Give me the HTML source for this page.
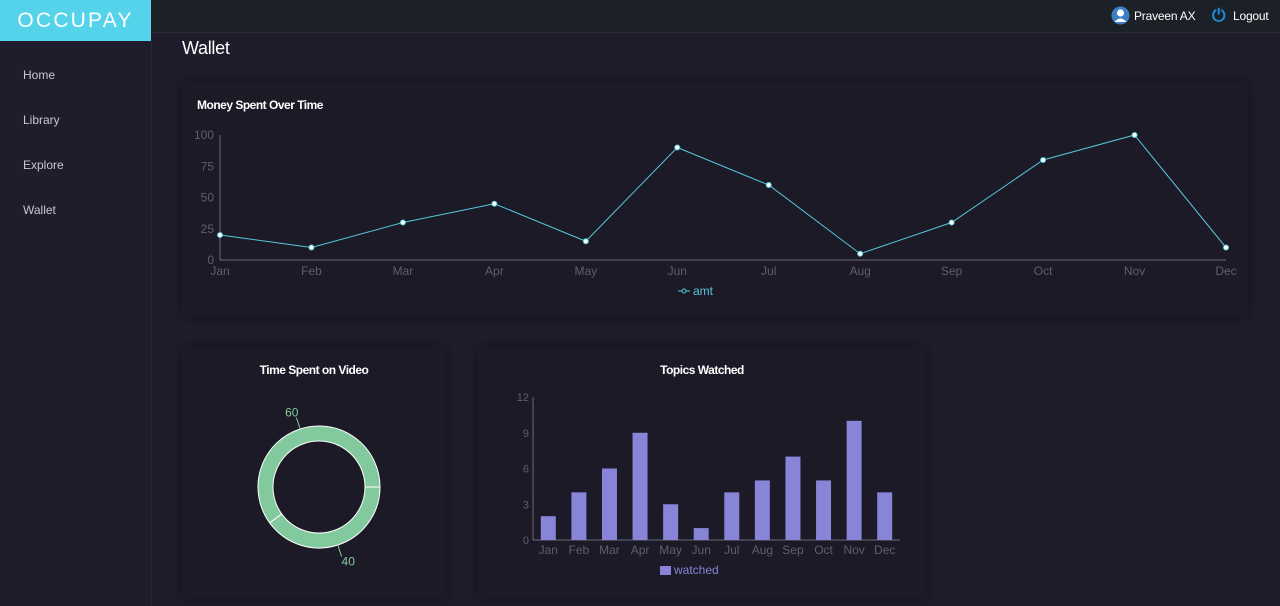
<!DOCTYPE html>
<html><head><meta charset="utf-8">
<style>
body{margin:0;width:1280px;height:606px;overflow:hidden;background:#1f1c2b;font-family:"Liberation Sans",sans-serif;position:relative}
.hdr{position:absolute;left:0;top:0;width:1280px;height:32px;background:#1b2126;border-bottom:1px solid #2a2d38}
.logo{position:absolute;left:0;top:0;width:151px;height:41px;background:#55d3ea;color:#fff;font-size:21px;letter-spacing:2.2px;line-height:41px;text-align:center;font-weight:normal}
.side{position:absolute;left:0;top:41px;width:151px;height:565px;background:#1f1c2b;border-right:1px solid #2a2836}
.nav{position:absolute;left:23px;color:#c8c8cf;font-size:12px}
.card{position:absolute;background:#1c1a27;box-shadow:0 0 12px rgba(0,0,0,.35)}
.t{position:absolute;color:#fff;font-size:12px;font-weight:bold;letter-spacing:-.5px}
svg text{font-family:"Liberation Sans",sans-serif}
</style></head><body>
<div class="hdr">
 <svg style="position:absolute;left:1111px;top:6px" width="19" height="19"><circle cx="9.5" cy="9.5" r="9" fill="#3d7fc4"/><circle cx="9.5" cy="7" r="3.6" fill="#fff"/><path d="M3.5,16 Q9.5,9 15.5,16 Z" fill="#fff"/></svg>
 <div style="position:absolute;left:1134px;top:9px;color:#fff;font-size:12px;letter-spacing:-.2px">Praveen AX</div>
 <div style="position:absolute;left:1212px;top:6px;color:#1e8fe0;font-size:17px;font-weight:bold">⏻</div>
 <div style="position:absolute;left:1233px;top:9px;color:#fff;font-size:12px;letter-spacing:-.2px">Logout</div>
</div>
<div class="logo">OCCUPAY</div>
<div class="side">
 <div class="nav" style="top:27px">Home</div>
 <div class="nav" style="top:72px">Library</div>
 <div class="nav" style="top:117px">Explore</div>
 <div class="nav" style="top:162px">Wallet</div>
</div>
<div style="position:absolute;left:182px;top:38px;color:#fff;font-size:18px;letter-spacing:-.3px">Wallet</div>

<div class="card" style="left:182px;top:83px;width:1066px;height:233px"></div>
<div class="t" style="left:197px;top:98px">Money Spent Over Time</div>
<div class="card" style="left:182px;top:348px;width:264px;height:250px"></div>
<div class="t" style="left:182px;width:264px;text-align:center;top:363px">Time Spent on Video</div>
<div class="card" style="left:478px;top:348px;width:448px;height:250px"></div>
<div class="t" style="left:478px;width:448px;text-align:center;top:363px">Topics Watched</div>

<svg id="svg" width="1280" height="606" style="position:absolute;left:0;top:0"></svg>
<script>
const lineMonths=["Jan","Feb","Mar","Apr","May","Jun","Jul","Aug","Sep","Oct","Nov","Dec"];
const amtValues=[20,10,30,45,15,90,60,5,30,80,100,10];
const amtTicks=[0,25,50,75,100];
const barMonths=["Jan","Feb","Mar","Apr","May","Jun","Jul","Aug","Sep","Oct","Nov","Dec"];
const watchedValues=[2,4,6,9,3,1,4,5,7,5,10,4];
const watchedTicks=[0,3,6,9,12];
const pieLabels=["60","40"];
const pieValues=[60,40];

const svg=document.getElementById('svg');
const NS='http://www.w3.org/2000/svg';
function mk(tag,attrs,txt){const e=document.createElementNS(NS,tag);for(const k in attrs)e.setAttribute(k,attrs[k]);if(txt!=null)e.textContent=txt;svg.appendChild(e);return e;}
const axisC='#6b6a78',tickC='#5f5e6c';

// line chart
const lx0=220,lx1=1226,ly0=260,ly1=135;
const lx=i=>lx0+(lx1-lx0)*i/(lineMonths.length-1);
const ly=v=>ly0-(ly0-ly1)*v/100;
let e=mk('line',{x1:lx0,y1:ly1,x2:lx0,y2:ly0,stroke:axisC});

e=mk('line',{x1:lx0,y1:ly0,x2:lx1,y2:ly0,stroke:axisC});

amtTicks.forEach(v=>{e=mk('text',{x:lx0-6,y:ly(v)+4,'text-anchor':'end',fill:tickC,'font-size':12},v);
});
lineMonths.forEach((m,i)=>{e=mk('text',{x:lx(i),y:ly0+15,'text-anchor':'middle',fill:tickC,'font-size':12},m);
});
e=mk('polyline',{points:amtValues.map((v,i)=>lx(i)+','+ly(v)).join(' '),fill:'none',stroke:'#55c8dc','stroke-width':1});

amtValues.forEach((v,i)=>{e=mk('circle',{cx:lx(i),cy:ly(v),r:2.5,fill:'#fff',stroke:'#55c8dc'});
});
e=mk('line',{x1:678,y1:291,x2:690,y2:291,stroke:'#55c8dc'});

mk('circle',{cx:684,cy:291,r:2,fill:'#1c1a27',stroke:'#55c8dc'});
e=mk('text',{x:693,y:295,fill:'#55c8dc','font-size':12},'amt');


// bar chart
const bx0=533,bx1=900,by0=540,by1=397;
const bw=(bx1-bx0)/barMonths.length;
const bxc=i=>bx0+bw*(i+0.5);
const by=v=>by0-(by0-by1)*v/12;
e=mk('line',{x1:bx0,y1:by1,x2:bx0,y2:by0,stroke:axisC});

e=mk('line',{x1:bx0,y1:by0,x2:bx1,y2:by0,stroke:axisC});

watchedTicks.forEach(v=>{e=mk('text',{x:bx0-4,y:by(v)+4,'text-anchor':'end',fill:tickC,'font-size':11},v);
});
barMonths.forEach((m,i)=>{e=mk('text',{x:bxc(i),y:by0+14,'text-anchor':'middle',fill:tickC,'font-size':12},m);
});
watchedValues.forEach((v,i)=>{e=mk('rect',{x:bxc(i)-7.5,y:by(v),width:15,height:by0-by(v),fill:'#8884d8'});
});
e=mk('rect',{x:660,y:566,width:11,height:9,fill:'#8884d8'});

e=mk('text',{x:674,y:574,fill:'#8884d8','font-size':12},'watched');


// donut
const cx=319,cy=487,ro=61,ri=46;
const tot=pieValues.reduce((a,b)=>a+b,0);
let ang=0;
pieValues.forEach((v,i)=>{
 const a0=ang,a1=ang+v/tot*2*Math.PI;ang=a1;
 const p=(r,a)=>[cx+r*Math.cos(a),cy-r*Math.sin(a)];
 const large=(a1-a0)>Math.PI?1:0;
 const [x0,y0]=p(ro,a0),[x1,y1]=p(ro,a1),[x2,y2]=p(ri,a1),[x3,y3]=p(ri,a0);
 e=mk('path',{d:`M${x0},${y0}A${ro},${ro} 0 ${large} 0 ${x1},${y1}L${x2},${y2}A${ri},${ri} 0 ${large} 1 ${x3},${y3}Z`,fill:'#82ca9d',stroke:'#fff','stroke-width':1});
 
 const am=(a0+a1)/2;const [lx_,ly_]=p(ro,am),[lx2,ly2]=p(ro+12,am);
 mk('line',{x1:lx_,y1:ly_,x2:lx2,y2:ly2,stroke:'#82ca9d'});
 const up=Math.sin(am)>0;
 e=mk('text',{x:lx2+(up?2:0),y:ly2+(up?-1:9),'text-anchor':up?'end':'start',fill:'#82ca9d','font-size':12},pieLabels[i]);
 
});
</script>
</body></html>
